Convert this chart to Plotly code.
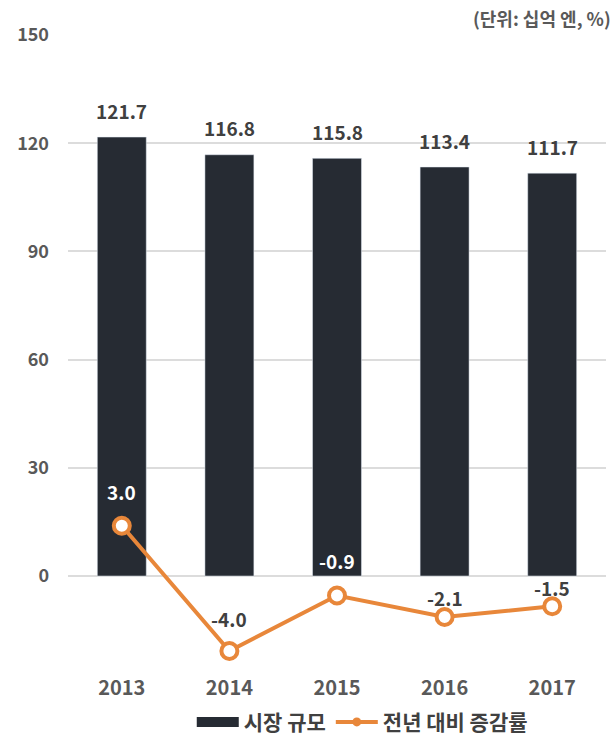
import plotly.graph_objects as go

# ---- data ----
years = ["2013", "2014", "2015", "2016", "2017"]
market_size = [121.7, 116.8, 115.8, 113.4, 111.7]
yoy_change = [3.0, -4.0, -0.9, -2.1, -1.5]
y_ticks = [0, 30, 60, 90, 120, 150]

bar_name = "시장 규모"
line_name = "전년 대비 증감률"
unit_text = "(단위: 십억 엔, %)"

# ---- style ----
BAR_COLOR = "#262b33"
LINE_COLOR = "#e8873a"
FONT = "Noto Sans CJK KR"
TEXT_DARK = "#404040"
TICK_COLOR = "#595959"
line_label_shift = [34, 33, 35, 20, 19]
line_label_color = ["white", TEXT_DARK, "white", TEXT_DARK, TEXT_DARK]

x_pos = list(range(len(years)))

fig = go.Figure()
fig.add_trace(go.Bar(x=x_pos, y=market_size, name=bar_name, showlegend=False,
                     marker=dict(color=BAR_COLOR), width=0.455, yaxis="y"))
fig.add_trace(go.Scatter(x=x_pos, y=yoy_change, name=line_name, mode="lines+markers",
                         yaxis="y2", showlegend=False, line=dict(color=LINE_COLOR, width=4),
                         marker=dict(size=16, color="white",
                                     line=dict(color=LINE_COLOR, width=4))))
# legend-only entries (styled like the reference legend keys)
fig.add_trace(go.Scatter(x=[None], y=[None], name=bar_name, mode="lines",
                         line=dict(color=BAR_COLOR, width=12)))
fig.add_trace(go.Scatter(x=[None], y=[None], name=line_name, mode="lines+markers",
                         yaxis="y2", line=dict(color=LINE_COLOR, width=4),
                         marker=dict(size=9, color=LINE_COLOR)))

annotations = []
for xp, v in zip(x_pos, market_size):
    annotations.append(dict(x=xp, y=v, xref="x", yref="y", text=f"{v:.1f}",
                            showarrow=False, yshift=27,
                            font=dict(family=FONT, size=19, color=TEXT_DARK, weight="bold")))
for xp, v, s, c in zip(x_pos, yoy_change, line_label_shift, line_label_color):
    annotations.append(dict(x=xp, y=v, xref="x", yref="y2", text=f"{v:.1f}",
                            showarrow=False, yshift=s,
                            font=dict(family=FONT, size=19, color=c, weight="bold")))
annotations.append(dict(x=1.0125, y=1.027, xref="paper", yref="paper", text=unit_text,
                        showarrow=False, xanchor="right", yanchor="middle",
                        font=dict(family=FONT, size=18, color=TICK_COLOR, weight="bold")))

fig.update_layout(
    width=614, height=740, autosize=False,
    margin=dict(l=68, r=8, t=35, b=70, autoexpand=False),
    paper_bgcolor="white", plot_bgcolor="white",
    font=dict(family=FONT),
    showlegend=True,
    legend=dict(orientation="h", xref="container", yref="container",
                x=0.59, xanchor="center", y=0.024, yanchor="middle",
                font=dict(family=FONT, size=21, color=TEXT_DARK, weight="bold"),
                itemwidth=42, tracegroupgap=0,
                bgcolor="rgba(0,0,0,0)"),
    xaxis=dict(type="linear", range=[-0.5, len(years) - 0.5], tickvals=x_pos, ticktext=years,
               showgrid=False, showline=False, ticks="", zeroline=False,
               ticklabelstandoff=4,
               tickfont=dict(family=FONT, size=20, color=TICK_COLOR, weight="bold")),
    yaxis=dict(range=[-26.06, 150], tickvals=y_ticks, showgrid=True,
               gridcolor="#dcdcdc", gridwidth=2, zeroline=False, showline=False,
               ticks="", ticklabelstandoff=18,
               tickfont=dict(family=FONT, size=18, color=TICK_COLOR, weight="bold")),
    yaxis2=dict(range=[-5.06, 30.41], overlaying="y", visible=False),
    annotations=annotations,
    hovermode=False,
)

fig.write_html("out.html", config={"displayModeBar": False},
               post_script="document.body.style.margin='0';")
